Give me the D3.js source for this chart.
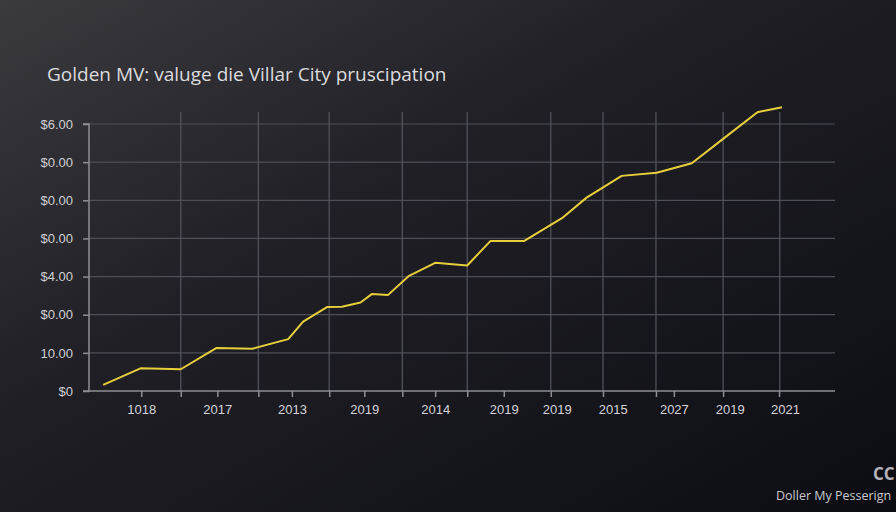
<!DOCTYPE html>
<html>
<head>
<meta charset="utf-8">
<script src="https://cdn.jsdelivr.net/npm/d3@7"></script>
<style>
  html, body { margin: 0; padding: 0; background: #111; }
  svg { display: block; }
</style>
</head>
<body>
<div id="chart"></div>
<script>
// ---- data ----
const titleText = "Golden MV: valuge die Villar City pruscipation";
const footerText = "Doller My Pesserign";
const footerMark = "CC";

// line series (x in axis units, y in value units)
const seriesX = [1.9, 6.9, 12.3, 17.1, 21.9, 26.7, 28.7, 31.9, 33.9, 36.4, 37.9, 40.1, 42.9, 46.4, 50.7, 53.8, 58.3, 63.4, 66.7, 71.4, 76.1, 80.8, 85.0, 89.6, 92.9];
const seriesY = [1.6, 5.95, 5.7, 11.3, 11.1, 13.6, 18.2, 22.0, 22.1, 23.2, 25.4, 25.2, 30.2, 33.6, 32.9, 39.3, 39.3, 45.3, 50.7, 56.4, 57.2, 59.7, 66.1, 73.1, 74.4];

// y axis ticks
const yTickValues = [0, 10, 20, 30, 40, 50, 60, 70];
const yTickLabels = ["$0", "10.00", "$0.00", "$4.00", "$0.00", "$0.00", "$0.00", "$6.00"];

// x axis tick marks, gridlines and labels
const xTickMarks = [7.0, 12.3, 17.2, 22.7, 27.2, 32.2, 36.9, 42.0, 46.4, 50.7, 55.6, 61.9, 68.9, 76.0, 78.4, 85.0, 92.5];
const xGridValues = [12.3, 22.7, 32.2, 42.0, 50.7, 61.9, 68.9, 76.0, 85.0, 92.6];
const xLabelValues = [7.0, 17.2, 27.2, 36.9, 46.4, 55.6, 62.7, 70.2, 78.4, 85.9, 93.3];
const xLabels = ["1018", "2017", "2013", "2019", "2014", "2019", "2019", "2015", "2027", "2019", "2021"];

// ---- layout ----
const W = 896, H = 512;
const mLeft = 89, mRight = 835, mTop = 124, mBottom = 391;

const svg = d3.select("#chart").append("svg")
  .attr("width", W).attr("height", H);

const defs = svg.append("defs");
const bg = defs.append("linearGradient").attr("id", "bg")
  .attr("x1", 0).attr("y1", 0).attr("x2", 1).attr("y2", 1);
bg.append("stop").attr("offset", "0%").attr("stop-color", "#3a3a3f");
bg.append("stop").attr("offset", "40%").attr("stop-color", "#1f1f25");
bg.append("stop").attr("offset", "100%").attr("stop-color", "#0c0c13");

svg.append("rect").attr("width", W).attr("height", H).attr("fill", "url(#bg)");

const x = d3.scaleLinear().domain([0, 100]).range([mLeft, mRight]);
const y = d3.scaleLinear().domain([0, 70]).range([mBottom, mTop]);

// horizontal gridlines
svg.append("g").selectAll("line").data(yTickValues.slice(1)).join("line")
  .attr("x1", mLeft).attr("x2", mRight)
  .attr("y1", d => y(d)).attr("y2", d => y(d))
  .attr("stroke", "#4e4e56").attr("stroke-width", 1.2);

// vertical gridlines
svg.append("g").selectAll("line").data(xGridValues).join("line")
  .attr("x1", d => x(d)).attr("x2", d => x(d))
  .attr("y1", 112).attr("y2", mBottom)
  .attr("stroke", "#55555d").attr("stroke-width", 1.2);

// y axis
const yAxis = d3.axisLeft(y).tickValues(yTickValues).tickSize(6).tickPadding(10)
  .tickFormat((d, i) => yTickLabels[i]);
const gy = svg.append("g").attr("transform", `translate(${mLeft},0)`).call(yAxis);
gy.select(".domain").attr("stroke", "#8e8e94").attr("stroke-width", 1.5)
  .attr("d", `M-6,${mTop}H0V${mBottom}H-6`);
gy.selectAll(".tick line").attr("stroke", "#8e8e94").attr("stroke-width", 1.5);
gy.selectAll(".tick text").attr("fill", "#d0d0d4")
  .style("font-family", "'Liberation Sans', Arial, sans-serif").style("font-size", "13px");

// x axis tick marks
const xAxisTicks = d3.axisBottom(x).tickValues(xTickMarks).tickSize(6).tickFormat("");
const gx = svg.append("g").attr("transform", `translate(0,${mBottom})`).call(xAxisTicks);
gx.select(".domain").attr("stroke", "#8e8e94").attr("stroke-width", 1.5)
  .attr("d", `M${mLeft},0H${mRight}`);
gx.selectAll(".tick line").attr("stroke", "#8e8e94").attr("stroke-width", 1.5);

// x axis labels
const xAxisLabels = d3.axisBottom(x).tickValues(xLabelValues).tickSize(0).tickPadding(14)
  .tickFormat((d, i) => xLabels[i]);
const gxl = svg.append("g").attr("transform", `translate(0,${mBottom})`).call(xAxisLabels);
gxl.select(".domain").remove();
gxl.selectAll(".tick text").attr("fill", "#d4d4d8")
  .style("font-family", "'Liberation Sans', Arial, sans-serif").style("font-size", "13px");

// line
const line = d3.line().x((d, i) => x(seriesX[i])).y(d => y(d));
svg.append("path").datum(seriesY)
  .attr("d", line)
  .attr("fill", "none")
  .attr("stroke", "#e7cf3c")
  .attr("stroke-width", 2)
  .attr("stroke-linejoin", "round");

// title
svg.append("text").attr("x", 47).attr("y", 81)
  .attr("fill", "#dcdcdf")
  .style("font-family", "'Open Sans', 'Noto Sans', sans-serif")
  .style("font-size", "19px")
  .text(titleText);

// footer
svg.append("text").attr("x", 873).attr("y", 480)
  .attr("fill", "#b4b4ba")
  .style("font-family", "'Open Sans', sans-serif")
  .style("font-size", "17px").style("font-weight", "bold")
  .text(footerMark);
svg.append("text").attr("x", 776).attr("y", 500)
  .attr("fill", "#c8c8cc")
  .style("font-family", "'Open Sans', sans-serif")
  .style("font-size", "12.5px")
  .text(footerText);
</script>
</body>
</html>
